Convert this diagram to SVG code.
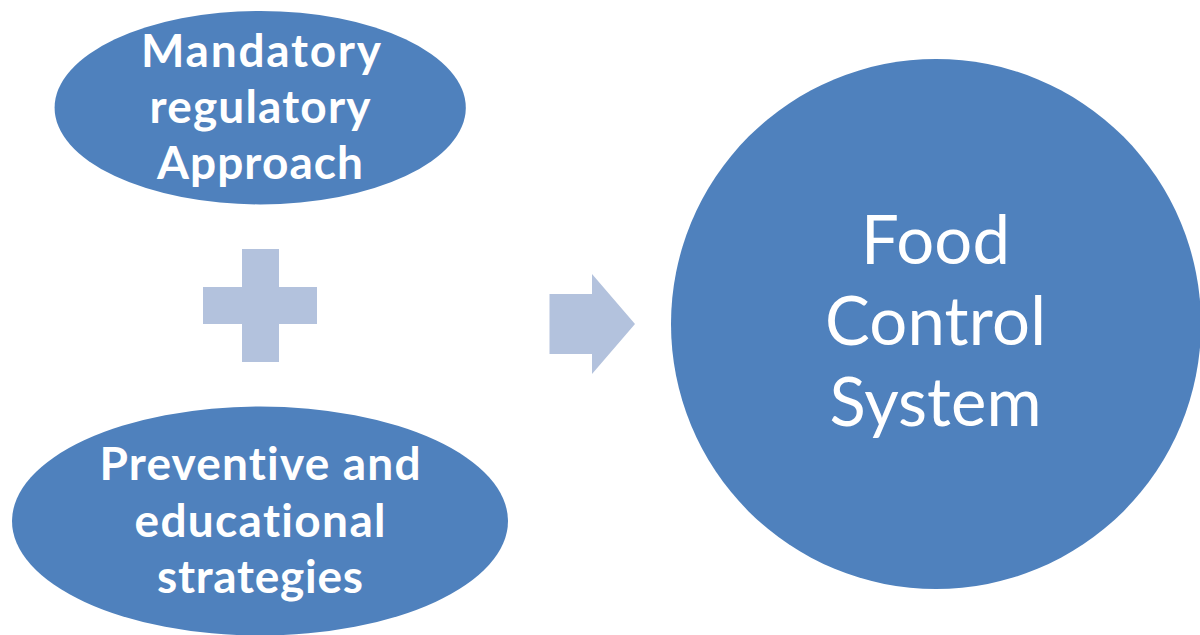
<svg xmlns="http://www.w3.org/2000/svg" width="1200" height="635" viewBox="0 0 1200 635">
<style>
.n{fill:#4f81bd}
.o{fill:#b3c2dd}
text{fill:#fff;text-anchor:middle;font-family:Lato,"Open Sans","Liberation Sans",sans-serif;font-variant-ligatures:none}
.b{font-weight:700;font-size:46px}
.r{font-size:67px}
</style>
<rect width="1200" height="635" fill="#fff"/>
<g id="node-mandatory"><ellipse class="n" cx="260.200" cy="107.700" rx="205.600" ry="96.700"/>
<text class="b" x="261" y="66.500" textLength="240">Mandatory</text><text class="b" x="260" y="122.500" textLength="221">regulatory</text><text class="b" x="260" y="178.500" textLength="206">Approach</text></g>
<g id="node-plus"><polygon class="o" points="242,249 279,249 279,287 317,287 317,324 279,324 279,362 242,362 242,324 203,324 203,287 242,287"/></g>
<g id="node-preventive"><ellipse class="n" cx="260" cy="521" rx="248" ry="114.500"/>
<text class="b" x="260" y="479.500" textLength="321">Preventive and</text><text class="b" x="260" y="536.500" textLength="251">educational</text><text class="b" x="260" y="592.500" textLength="206">strategies</text></g>
<g id="connectors"><polygon class="o" points="549.500,294 592,294 592,274 635,324 592,374 592,354 549.500,354"/></g>
<g id="node-food"><circle class="n" cx="936" cy="324" r="265"/>
<text class="r" x="935.500" y="263.500" textLength="149">Food</text><text class="r" x="935.500" y="344.500" textLength="221">Control</text><text class="r" x="935.500" y="425.500" textLength="212">System</text></g>
</svg>
